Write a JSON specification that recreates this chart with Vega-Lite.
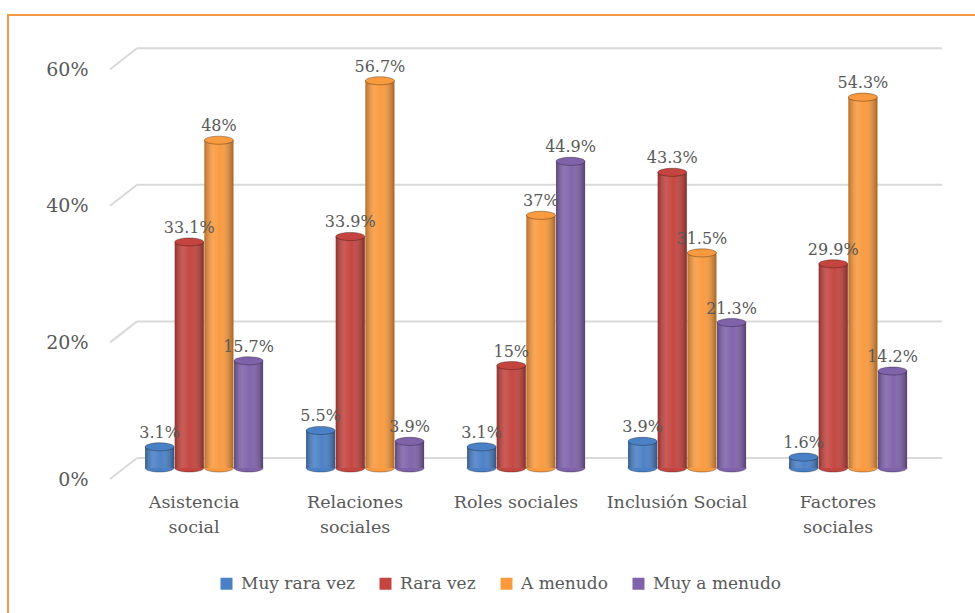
{
  "$schema": "https://vega.github.io/schema/vega-lite/v6.json",
  "width": 970,
  "height": 601,
  "autosize": {"type": "none"},
  "padding": {"left": 8, "top": 15, "right": -3, "bottom": -3},
  "background": "white",
  "config": {
    "view": {"stroke": "#f79646", "strokeWidth": 2},
    "font": "DejaVu Serif"
  },
  "datasets": {
    "bars": [
      {"cat": "Asistencia social", "s": "Muy rara vez", "v": 0.031},
      {"cat": "Asistencia social", "s": "Rara vez", "v": 0.331},
      {"cat": "Asistencia social", "s": "A menudo", "v": 0.48},
      {"cat": "Asistencia social", "s": "Muy a menudo", "v": 0.157},
      {"cat": "Relaciones sociales", "s": "Muy rara vez", "v": 0.055},
      {"cat": "Relaciones sociales", "s": "Rara vez", "v": 0.339},
      {"cat": "Relaciones sociales", "s": "A menudo", "v": 0.567},
      {"cat": "Relaciones sociales", "s": "Muy a menudo", "v": 0.039},
      {"cat": "Roles sociales", "s": "Muy rara vez", "v": 0.031},
      {"cat": "Roles sociales", "s": "Rara vez", "v": 0.15},
      {"cat": "Roles sociales", "s": "A menudo", "v": 0.37},
      {"cat": "Roles sociales", "s": "Muy a menudo", "v": 0.449},
      {"cat": "Inclusión Social", "s": "Muy rara vez", "v": 0.039},
      {"cat": "Inclusión Social", "s": "Rara vez", "v": 0.433},
      {"cat": "Inclusión Social", "s": "A menudo", "v": 0.315},
      {"cat": "Inclusión Social", "s": "Muy a menudo", "v": 0.213},
      {"cat": "Factores sociales", "s": "Muy rara vez", "v": 0.016},
      {"cat": "Factores sociales", "s": "Rara vez", "v": 0.299},
      {"cat": "Factores sociales", "s": "A menudo", "v": 0.543},
      {"cat": "Factores sociales", "s": "Muy a menudo", "v": 0.142}
    ],
    "grid": [{"g": 0}, {"g": 0.2}, {"g": 0.4}, {"g": 0.6}]
  },
  "layer": [
    {
      "data": {"name": "grid"},
      "mark": {"type": "rule", "color": "#d9d9d9", "strokeWidth": 2, "xOffset": -8, "x2Offset": 35, "yOffset": -10},
      "encoding": {
        "x": {"datum": "Asistencia social", "type": "nominal", "bandPosition": 0},
        "x2": {"datum": "Factores sociales", "bandPosition": 1},
        "y": {"field": "g", "type": "quantitative"}
      }
    },
    {
      "data": {"name": "grid"},
      "mark": {"type": "rule", "color": "#d9d9d9", "strokeWidth": 2, "xOffset": -35, "x2Offset": -8, "yOffset": 11, "y2Offset": -10},
      "encoding": {
        "x": {"datum": "Asistencia social", "type": "nominal", "bandPosition": 0},
        "x2": {"datum": "Asistencia social", "bandPosition": 0},
        "y": {"field": "g", "type": "quantitative"},
        "y2": {"field": "g"}
      }
    },
    {
      "data": {"name": "bars"},
      "mark": {"type": "point", "filled": true, "opacity": 1, "shape": "M -1 0 A 1 0.28 0 1 1 1 0 A 1 0.28 0 1 1 -1 0 Z", "size": 841, "stroke": "rgba(0,0,0,0.3)", "strokeWidth": 1},
      "encoding": {
        "x": {"field": "cat", "type": "nominal"},
        "xOffset": {"field": "s", "type": "nominal"},
        "y": {"datum": 0, "type": "quantitative"},
        "color": {"field": "s", "type": "nominal"}
      }
    },
    {
      "data": {"name": "bars"},
      "mark": {"type": "bar"},
      "encoding": {
        "x": {
          "field": "cat", "type": "nominal",
          "scale": {"domain": ["Asistencia social", "Relaciones sociales", "Roles sociales", "Inclusión Social", "Factores sociales"], "paddingInner": 0.267, "paddingOuter": 0.646, "align": 0.659},
          "axis": {
            "title": null, "domain": false, "ticks": false, "tickSize": 0, "labelPadding": 0, "offset": -123,
            "bandPosition": 0.5, "labelAlign": "center",
            "labelAngle": 0, "labelFontSize": 17.5, "labelColor": "#595959", "labelOffset": -10,
            "labelBaseline": "top", "labelLineHeight": 25, "labelLimit": 0, "labelFont": "DejaVu Serif",
            "labelExpr": "indexof(['Asistencia social','Relaciones sociales','Factores sociales'], datum.value) >= 0 ? split(datum.value, ' ') : datum.value"
          }
        },
        "xOffset": {
          "field": "s", "type": "nominal",
          "scale": {"domain": ["Muy rara vez", "Rara vez", "A menudo", "Muy a menudo"], "paddingInner": 0.02, "paddingOuter": 0}
        },
        "y": {
          "field": "v", "type": "quantitative",
          "scale": {"domain": [-0.2167, 0.6633], "nice": false, "zero": false},
          "axis": {
            "values": [0, 0.2, 0.4, 0.6], "format": ".0%", "title": null, "domain": false, "ticks": false, "tickSize": 0,
            "grid": false, "labelPadding": 0, "offset": -80, "labelFontSize": 19, "labelColor": "#595959",
            "labelOffset": 11, "labelFont": "DejaVu Serif"
          }
        },
        "color": {
          "field": "s", "type": "nominal",
          "scale": {"domain": ["Muy rara vez", "Rara vez", "A menudo", "Muy a menudo"], "range": ["#4a80c6", "#c4443f", "#f99a3e", "#8062aa"]},
          "legend": {
            "orient": "none", "legendX": 210, "legendY": 560, "direction": "horizontal", "title": null,
            "symbolType": "square", "symbolSize": 144, "symbolStrokeWidth": 0, "labelFontSize": 17,
            "labelColor": "#595959", "labelFont": "DejaVu Serif", "columnPadding": 22, "labelOffset": 6
          }
        }
      }
    },
    {
      "data": {"name": "bars"},
      "mark": {
        "type": "bar",
        "fill": {
          "gradient": "linear", "x1": 0, "x2": 1, "y1": 0, "y2": 0,
          "stops": [
            {"offset": 0, "color": "rgba(0,0,0,0.28)"},
            {"offset": 0.3, "color": "rgba(255,255,255,0.12)"},
            {"offset": 0.55, "color": "rgba(255,255,255,0.02)"},
            {"offset": 1, "color": "rgba(0,0,0,0.35)"}
          ]
        }
      },
      "encoding": {
        "x": {"field": "cat", "type": "nominal"},
        "xOffset": {"field": "s", "type": "nominal"},
        "y": {"field": "v", "type": "quantitative"}
      }
    },
    {
      "data": {"name": "bars"},
      "mark": {"type": "point", "filled": true, "opacity": 1, "shape": "M -1 0 A 1 0.28 0 1 1 1 0 A 1 0.28 0 1 1 -1 0 Z", "size": 841, "stroke": "rgba(0,0,0,0.3)", "strokeWidth": 1},
      "encoding": {
        "x": {"field": "cat", "type": "nominal"},
        "xOffset": {"field": "s", "type": "nominal"},
        "y": {"field": "v", "type": "quantitative"},
        "color": {"field": "s", "type": "nominal"}
      }
    },
    {
      "data": {"name": "bars"},
      "mark": {"type": "text", "baseline": "alphabetic", "dy": -9, "fontSize": 16, "color": "#595959", "font": "DejaVu Serif"},
      "encoding": {
        "x": {"field": "cat", "type": "nominal"},
        "xOffset": {"field": "s", "type": "nominal"},
        "y": {"field": "v", "type": "quantitative"},
        "text": {"field": "v", "type": "quantitative", "format": ".1~%"}
      }
    }
  ]
}
